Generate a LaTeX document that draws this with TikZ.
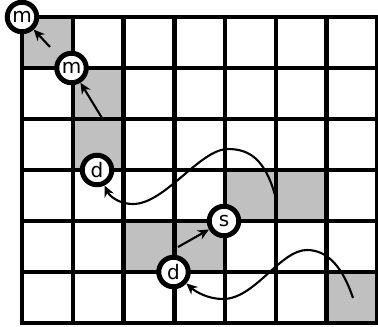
\documentclass[tikz,border=0pt]{standalone}
\usepackage{fontspec}
\setmainfont{DejaVu Sans}
\usetikzlibrary{arrows.meta}
\definecolor{cellgray}{HTML}{C0C0C0}
\tikzset{
  gridline/.style={line width=4.5pt, line cap=rect},
  state/.style={circle, draw=black, fill=white, line width=5pt, minimum size=29.5pt, inner sep=0pt, font=\fontsize{20}{20}\selectfont},
  arr/.style={line width=2.1pt, -{Stealth[length=11pt,width=10pt,inset=3.5pt]}},
}
\begin{document}
\begin{tikzpicture}[x=1pt,y=-1pt]
\useasboundingbox (0,0) rectangle (378,327);
% shaded cells
\fill[cellgray] (22,17) rectangle (72.75,68);
\fill[cellgray] (72.75,68) rectangle (123.5,170);
\fill[cellgray] (225,170) rectangle (326.5,221);
\fill[cellgray] (123.5,221) rectangle (225,272);
\fill[cellgray] (326.5,272) rectangle (377.25,323);
% grid
\foreach \i in {0,...,7} {
  \draw[gridline] ({22+50.75*\i},17) -- ({22+50.75*\i},323);
}
\foreach \j in {0,...,6} {
  \draw[gridline] (22,{17+51*\j}) -- (377.25,{17+51*\j});
}
% nodes
\node[state] (m1) at (22,17) {m};
\node[state] (m2) at (71.5,68) {m};
\node[state] (d1) at (97,170) {d};
\node[state] (s) at (224,221) {s};
\node[state] (d2) at (173.5,272) {d};
% arrow start points
\coordinate (a1) at (50,47);
\coordinate (a2) at (102,118);
\coordinate (a3) at (178,247);
\coordinate (t1) at (275,195);
\coordinate (t2) at (353,298);
% connectors
\draw[arr] (a1) -- (m1);
\draw[arr] (a2) -- (m2);
\draw[arr] (a3) -- (s);
\draw[arr] (t1) .. controls (265,160) and (250,149) .. (228,149)
  .. controls (200,149) and (165,204) .. (133,204)
  .. controls (120,204) and (110,197) .. (d1);
\draw[arr] (t2) .. controls (343,268) and (328,250) .. (307,250)
  .. controls (280,250) and (255,299) .. (223,299)
  .. controls (208,299) and (196,292) .. (d2);
\end{tikzpicture}
\end{document}
